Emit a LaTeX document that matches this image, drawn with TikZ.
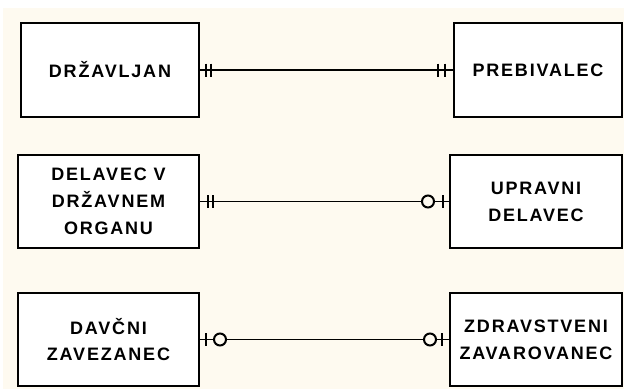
\documentclass[tikz,border=0pt]{standalone}
\usepackage{fontspec}
\setmainfont{Liberation Sans}
\newfontfamily\entfont{Liberation Sans}[LetterSpace=10]
\usetikzlibrary{calc}
\definecolor{bgc}{RGB}{254,250,240}
\begin{document}
\begin{tikzpicture}[x=1pt,y=-1pt,
  ent/.style={draw=black, fill=white, line width=2pt, inner sep=0pt, align=center,
    font=\entfont\bfseries\fontsize{18}{26.8}\selectfont},
  rel/.style={line width=1.5pt},
  tick/.style={line width=2pt},
  ring/.style={draw, line width=2pt, fill=bgc}]
\useasboundingbox (0,0) rectangle (624,391);
\fill[white] (0,0) rectangle (624,391);
\fill[bgc] (3,8) rectangle (624,389);
% entities
\node[ent, minimum width=178pt, minimum height=94pt] (a1) at (110,70) {DRŽAVLJAN};
\node[ent, minimum width=168pt, minimum height=94pt] (b1) at (538,70) {PREBIVALEC};
\node[ent, minimum width=181pt, minimum height=93pt] (a2) at (108.5,201.5) {DELAVEC V\\DRŽAVNEM\\ORGANU};
\node[ent, minimum width=172pt, minimum height=93pt] (b2) at (536,201.5) {UPRAVNI\\DELAVEC};
\node[ent, minimum width=181pt, minimum height=93pt] (a3) at (108.5,339.5) {DAVČNI\\ZAVEZANEC};
\node[ent, minimum width=172pt, minimum height=93pt] (b3) at (536,339.5) {ZDRAVSTVENI\\ZAVAROVANEC};
% relationships
\draw[rel] (a1.east) -- (b1.west);
\draw[rel] (a2.east) -- (b2.west);
\draw[rel] (a3.east) -- (b3.west);
% row 1: one and only one on both sides
\draw[tick] ($(a1.east)+(6,-6.5)$) -- ++(0,13);
\draw[tick] ($(a1.east)+(11,-6.5)$) -- ++(0,13);
\draw[tick] ($(b1.west)+(-8,-6.5)$) -- ++(0,13);
\draw[tick] ($(b1.west)+(-15,-6.5)$) -- ++(0,13);
% row 2: one and only one / zero or one
\draw[tick] ($(a2.east)+(7.5,-6.5)$) -- ++(0,13);
\draw[tick] ($(a2.east)+(12.5,-6.5)$) -- ++(0,13);
\draw[tick] ($(b2.west)+(-6,-6.5)$) -- ++(0,13);
\draw[ring] ($(b2.west)+(-21,0)$) circle[radius=6pt];
% row 3: zero or one on both sides
\draw[tick] ($(a3.east)+(6,-6.5)$) -- ++(0,13);
\draw[ring] ($(a3.east)+(20,0)$) circle[radius=6pt];
\draw[tick] ($(b3.west)+(-7,-6.5)$) -- ++(0,13);
\draw[ring] ($(b3.west)+(-19,0)$) circle[radius=6pt];
\end{tikzpicture}
\end{document}
